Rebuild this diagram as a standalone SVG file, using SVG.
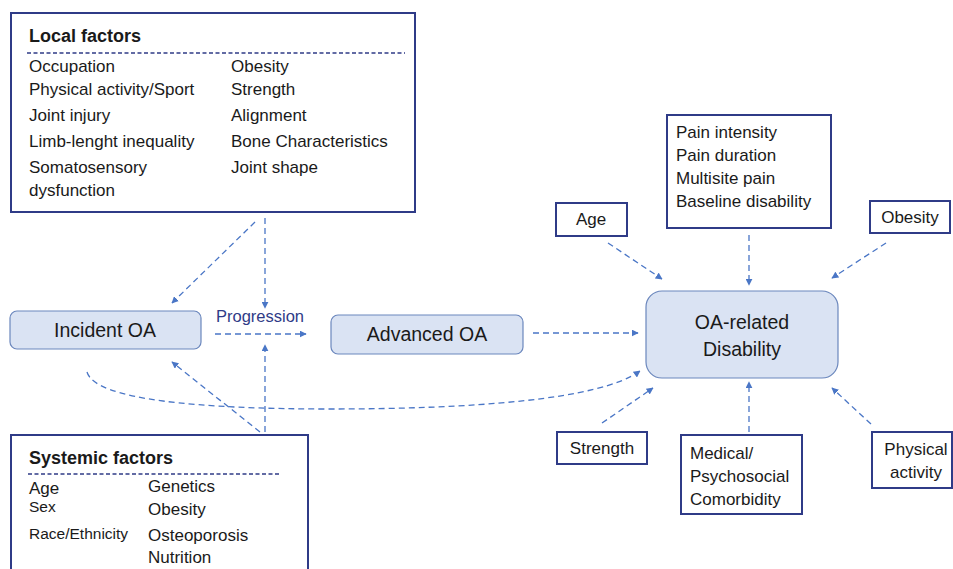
<svg xmlns="http://www.w3.org/2000/svg" width="953" height="569" viewBox="0 0 953 569">
  <style>
    text { font-family: "Liberation Sans", Arial, sans-serif; fill: #1a1a1a; font-size: 17px; }
    .title { font-weight: bold; font-size: 18px; }
    .small { font-size: 15.5px; }
    .stage { font-size: 19.5px; }
    .big { font-size: 19.5px; }
    .box { fill: #ffffff; stroke: #2f3b87; stroke-width: 2; }
    .rbox { fill: #dae3f3; stroke: #6b87bd; stroke-width: 1.2; }
    .sep { stroke: #2f3b87; stroke-width: 1.5; stroke-dasharray: 4 2.5; fill: none; }
    .link { stroke: #4a76c6; stroke-width: 1.3; stroke-dasharray: 6 4; fill: none; marker-end: url(#arrow); }
    .prog { fill: #2f3b87; font-size: 16.5px; }
  </style>
  <defs>
    <marker id="arrow" viewBox="0 0 10 10" refX="9" refY="5" markerWidth="7" markerHeight="7" markerUnits="userSpaceOnUse" orient="auto">
      <path d="M0,0 L10,5 L0,10 z" fill="#4a76c6"/>
    </marker>
  </defs>

  <!-- Local factors -->
  <g id="local-factors">
    <rect class="box" x="11" y="13" width="404" height="199"/>
    <text class="title" x="29" y="42">Local factors</text>
    <line class="sep" x1="27" y1="53" x2="405" y2="53"/>
    <text x="29" y="72">Occupation</text>
    <text x="29" y="95">Physical activity/Sport</text>
    <text x="29" y="121">Joint injury</text>
    <text x="29" y="147">Limb-lenght inequality</text>
    <text x="29" y="173">Somatosensory</text>
    <text x="29" y="196">dysfunction</text>
    <text x="231" y="72">Obesity</text>
    <text x="231" y="95">Strength</text>
    <text x="231" y="121">Alignment</text>
    <text x="231" y="147">Bone Characteristics</text>
    <text x="231" y="173">Joint shape</text>
  </g>

  <!-- Systemic factors -->
  <g id="systemic-factors">
    <rect class="box" x="11" y="435" width="297" height="140"/>
    <text class="title" x="29" y="464">Systemic factors</text>
    <line class="sep" x1="28" y1="474" x2="280" y2="474"/>
    <text x="29" y="494">Age</text>
    <text class="small" x="29" y="512">Sex</text>
    <text class="small" x="29" y="539">Race/Ethnicity</text>
    <text x="148" y="492">Genetics</text>
    <text x="148" y="515">Obesity</text>
    <text x="148" y="541">Osteoporosis</text>
    <text x="148" y="563">Nutrition</text>
  </g>

  <!-- Disease stages -->
  <g id="incident-oa">
    <rect class="rbox" x="10" y="311" width="191" height="38" rx="7"/>
    <text class="stage" x="105" y="337" text-anchor="middle">Incident OA</text>
  </g>
  <g id="advanced-oa">
    <rect class="rbox" x="331" y="315" width="192" height="39" rx="7"/>
    <text class="stage" x="427" y="341" text-anchor="middle">Advanced OA</text>
  </g>
  <g id="oa-disability">
    <rect class="rbox" x="646" y="291" width="192" height="87" rx="16"/>
    <text class="big" x="742" y="329" text-anchor="middle">OA-related</text>
    <text class="big" x="742" y="356" text-anchor="middle">Disability</text>
  </g>

  <!-- Disability predictors -->
  <g id="pain">
    <rect class="box" x="667" y="115" width="164" height="113"/>
    <text x="676" y="138">Pain intensity</text>
    <text x="676" y="161">Pain duration</text>
    <text x="676" y="184">Multisite pain</text>
    <text x="676" y="207">Baseline disability</text>
  </g>
  <g id="age">
    <rect class="box" x="556" y="203" width="71" height="33"/>
    <text x="591" y="225" text-anchor="middle">Age</text>
  </g>
  <g id="obesity">
    <rect class="box" x="870" y="201" width="80" height="32"/>
    <text x="910" y="223" text-anchor="middle">Obesity</text>
  </g>
  <g id="strength">
    <rect class="box" x="557" y="432" width="90" height="32"/>
    <text x="602" y="454" text-anchor="middle">Strength</text>
  </g>
  <g id="comorbidity">
    <rect class="box" x="681" y="435" width="121" height="79"/>
    <text x="690" y="459">Medical/</text>
    <text x="690" y="482">Psychosocial</text>
    <text x="690" y="505">Comorbidity</text>
  </g>
  <g id="physical-activity">
    <rect class="box" x="872" y="432" width="80" height="56"/>
    <text x="916" y="455" text-anchor="middle">Physical</text>
    <text x="916" y="478" text-anchor="middle">activity</text>
  </g>

  <!-- Connectors -->
  <g id="connectors">
    <line class="link" x1="255" y1="222" x2="172" y2="303"/>
    <line class="link" x1="265" y1="218" x2="265" y2="308"/>
    <line class="link" x1="215" y1="334" x2="306" y2="334"/>
    <line class="link" x1="265" y1="432" x2="265" y2="345"/>
    <line class="link" x1="260" y1="432" x2="172" y2="362"/>
    <line class="link" x1="533" y1="333" x2="638" y2="333"/>
    <path class="link" d="M87,372 C95,400 200,409 330,409 C470,409 600,400 640,371"/>
    <line class="link" x1="608" y1="243" x2="662" y2="279"/>
    <line class="link" x1="749" y1="235" x2="749" y2="285"/>
    <line class="link" x1="886" y1="243" x2="832" y2="278"/>
    <line class="link" x1="602" y1="423" x2="653" y2="388"/>
    <line class="link" x1="749" y1="432" x2="749" y2="382"/>
    <line class="link" x1="871" y1="424" x2="832" y2="388"/>
    <text class="prog" x="216" y="322">Progression</text>
  </g>
</svg>
